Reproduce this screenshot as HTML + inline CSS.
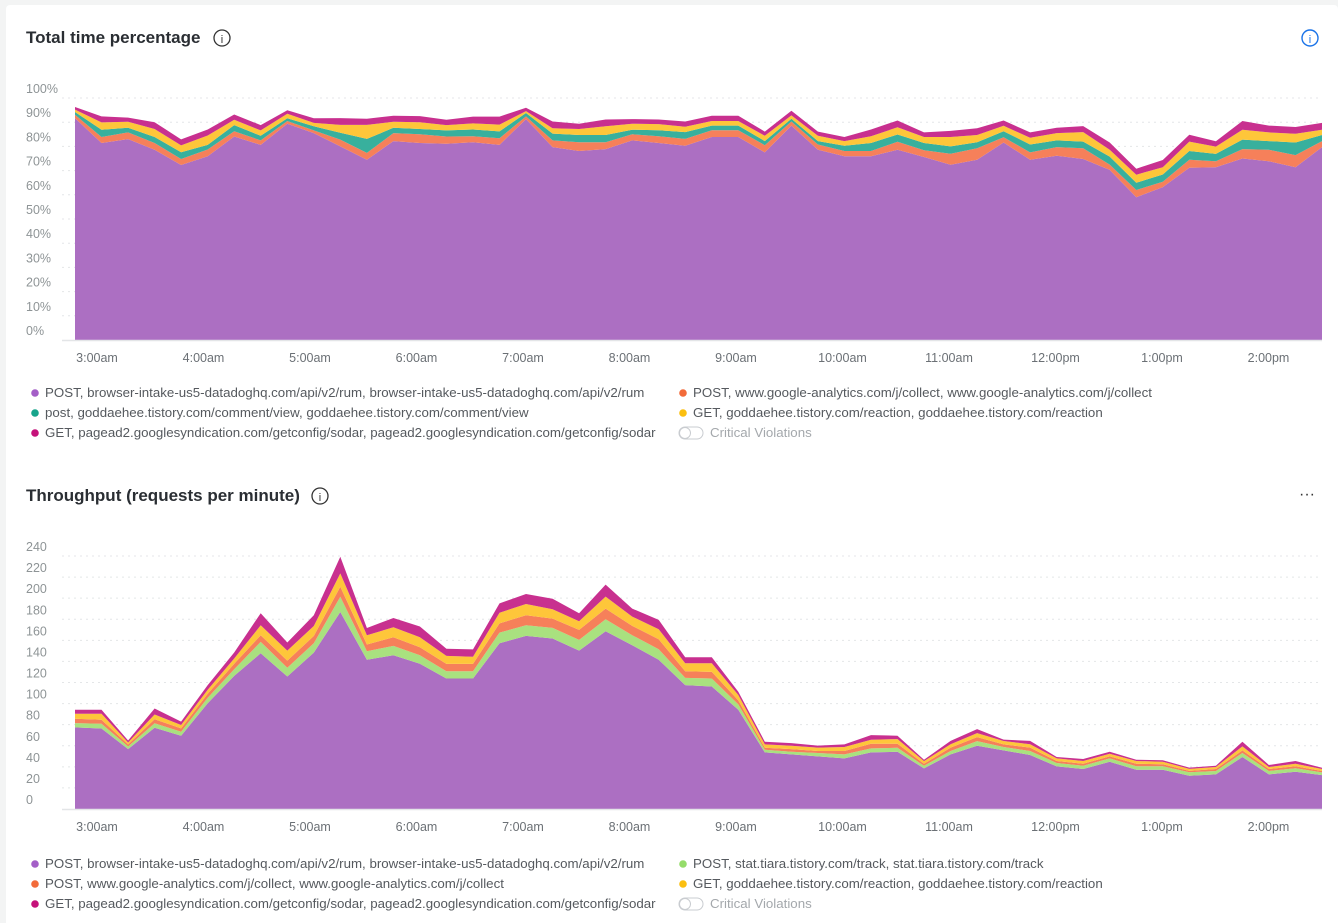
<!DOCTYPE html>
<html><head><meta charset="utf-8"><style>
body{margin:0;background:#f3f4f4;font-family:"Liberation Sans",Arial,sans-serif;}
#wrap{position:relative;width:1338px;height:923px;overflow:hidden;}
svg{position:absolute;left:0;top:0;}
</style></head><body>
<div id="wrap">
<svg id="svg" width="1338" height="923">
<rect x="6" y="5" width="1332" height="930" rx="4" fill="#fff"/>
<text x="26" y="43" font-size="17" font-weight="bold" fill="#2a2e33">Total time percentage</text>
<g><circle cx="222" cy="38" r="8" fill="none" stroke="#333" stroke-width="1.3"/><text x="222" y="43" font-size="11" text-anchor="middle" fill="#333">i</text></g>
<g><circle cx="1310" cy="38" r="8" fill="none" stroke="#1a73e8" stroke-width="1.4"/><text x="1310" y="43" font-size="11" text-anchor="middle" fill="#1a73e8">i</text></g>
<text x="26" y="501" font-size="17" font-weight="bold" fill="#2a2e33">Throughput (requests per minute)</text>
<g><circle cx="320" cy="496" r="8" fill="none" stroke="#333" stroke-width="1.3"/><text x="320" y="501" font-size="11" text-anchor="middle" fill="#333">i</text></g>
<text x="1307" y="499" font-size="16" text-anchor="middle" fill="#333">···</text>
<g id="c1"></g><g id="c2"></g>
</svg>
</div>
<script>
const times=["3:00am","4:00am","5:00am","6:00am","7:00am","8:00am","9:00am","10:00am","11:00am","12:00pm","1:00pm","2:00pm"];
const pctTicks=["0%","10%","20%","30%","40%","50%","60%","70%","80%","90%","100%"];
const rpmTicks=["0","20","40","60","80","100","120","140","160","180","200","220","240"];
// Chart 1 series (% of total time)
const t_rum=[91.7,81.4,83.0,78.6,72.3,75.9,84.1,80.6,89.4,85.5,80,74.5,82.2,81.4,81.1,81.7,80.6,91.3,79.7,78.1,78.9,82.5,81.4,80.3,83.9,83.9,77.5,88.6,78.6,75.9,75.9,78.6,75.6,72.4,74.5,81.6,74.5,76.1,74.8,70.3,59.0,63.2,71.2,71.4,75.0,73.9,71.4,79.7];
const t_ga=[1.4,2.5,2.8,2.8,2.5,2.8,2.2,1.9,1.1,1.1,2.8,2.8,3.3,3.6,3.0,2.5,2.8,1.1,2.8,3.6,2.8,2.5,2.8,2.8,2.8,2.8,3.0,1.7,2.2,2.2,2.2,3.3,2.8,4.6,4.7,2.2,3.0,3.6,4.4,2.2,3.0,2.2,3.3,2.5,3.9,4.7,5.0,2.5];
const t_comment=[1.1,3.0,1.9,2.5,2.8,1.9,2.5,1.9,1.1,1.7,2.8,5.8,2.2,2.2,2.5,2.8,2.8,1.4,2.8,3.0,3.0,1.9,2.5,2.8,1.9,1.9,1.7,1.1,1.4,2.2,3.3,3.0,3.0,3.0,2.5,2.5,3.3,2.8,2.8,3.3,3.0,3.0,3.6,3.0,3.9,3.6,5.2,2.5];
const t_reaction=[1.0,3.0,2.5,3.3,2.8,3.9,2.2,2.2,1.9,1.4,3.3,5.8,2.5,2.8,2.2,2.5,2.8,0.8,2.2,2.5,3.6,2.5,2.5,2.2,1.9,1.9,2.2,1.4,2.2,1.9,2.8,3.0,2.5,3.9,3.0,2.2,2.8,3.0,3.9,2.8,3.3,3.0,3.9,3.0,4.1,3.6,3.6,2.2];
const t_sodar=[1.1,2.5,1.7,2.8,2.5,2.5,2.2,2.2,1.4,1.9,2.8,2.5,2.5,2.5,2.2,2.8,3.3,1.4,2.8,2.2,2.8,1.9,1.9,2.2,2.2,2.2,1.7,1.9,1.7,1.7,2.8,2.8,1.9,2.5,2.8,2.2,2.2,2.2,2.5,3.0,2.5,3.0,2.8,2.2,3.6,2.8,2.8,2.8];
// Chart 2 series (requests per minute)
const r_rum=[77.4,76.4,56.8,77.0,69.5,100.4,126.3,147.8,125.7,148.4,186.9,141.5,145.9,137.7,123.8,123.8,157.2,164.2,161.7,150.3,168.6,155.4,141.5,117.5,116.2,94.1,53.7,51.8,49.9,48.0,53.7,54.3,38.5,51.8,60.0,55.6,51.2,40.4,37.9,44.8,37.3,37.3,31.6,32.8,49.3,32.8,35.4,32.2];
const r_tiara=[4.1,4.4,2.5,4.4,3.8,5.1,6.3,10.7,8.2,8.8,14.5,8.2,8.8,8.2,6.9,6.9,10.1,10.1,10.1,10.1,11.4,9.5,10.1,6.9,7.6,5.1,2.5,2.5,3.2,3.8,3.8,3.8,2.5,3.2,4.4,3.2,3.8,3.2,3.2,3.2,3.2,3.2,3.2,3.2,3.8,3.2,3.2,2.5];
const r_ga=[4.1,3.8,1.9,3.8,3.2,3.8,5.1,6.3,6.9,6.9,9.5,6.3,8.2,7.6,6.9,6.9,8.8,9.5,8.8,9.5,10.1,8.8,9.5,6.3,6.3,3.8,1.9,2.5,1.9,3.2,4.4,3.8,1.9,3.2,3.8,2.5,3.2,1.9,1.9,1.9,2.5,1.9,1.3,1.9,2.5,1.9,1.9,1.3];
const r_reaction=[4.7,5.7,1.9,4.4,3.2,3.8,5.1,9.5,9.5,9.5,12.6,8.8,9.5,9.5,7.6,6.9,10.1,10.7,8.8,8.2,11.4,8.8,9.5,7.6,8.2,5.1,3.2,3.2,3.2,3.8,3.8,4.4,2.5,3.2,3.8,3.2,3.2,2.5,2.5,2.5,2.5,2.5,1.9,1.9,3.8,1.9,2.5,1.9];
const r_sodar=[3.8,3.8,1.9,5.7,3.2,4.4,5.7,11.4,7.6,10.1,15.8,6.9,8.8,10.1,6.9,6.9,8.8,9.5,10.1,7.6,11.4,7.6,8.8,5.7,5.7,3.2,2.5,2.5,1.9,2.5,4.4,3.2,1.3,3.2,3.8,1.3,3.2,1.3,1.9,1.9,1.3,1.3,1.3,1.3,4.4,1.9,2.5,1.3];

const NS="http://www.w3.org/2000/svg";
function el(tag,attrs,parent){const e=document.createElementNS(NS,tag);for(const k in attrs)e.setAttribute(k,attrs[k]);parent.appendChild(e);return e;}
const X0=75,X1=1322;
const xAt=i=>X0+(X1-X0)*i/47;
const xTime=h=>97+106.5*h;

function drawChart(g,cfg){
  const yAt=v=>cfg.base-(v/cfg.max)*(cfg.base-cfg.top);
  cfg.ticks.forEach((t,k)=>{
    const v=cfg.max*k/(cfg.ticks.length-1);const y=yAt(v);
    if(k>0){const l=el('line',{x1:62,x2:1322,y1:y,y2:y,stroke:'#e4e6e8','stroke-dasharray':'2,4'},g);
      
      }
    const tx=el('text',{x:26,y:y-5,'font-size':12.5,fill:'#8e9496'},g);tx.textContent=t;
    
    
  });
  let cum=new Array(48).fill(0);
  cfg.series.forEach((s)=>{
    const lower=cum.slice();const upper=cum.map((c,i)=>c+s.vals[i]);
    let d='';
    for(let i=0;i<48;i++)d+=(i?'L':'M')+xAt(i).toFixed(1)+','+yAt(upper[i]).toFixed(1);
    for(let i=47;i>=0;i--)d+='L'+xAt(i).toFixed(1)+','+yAt(lower[i]).toFixed(1);
    const p=el('path',{d:d+'Z',fill:s.color},g);
    
    
    cum=upper;
  });
  const ax=el('line',{x1:62,x2:1322,y1:cfg.base+0.5,y2:cfg.base+0.5,stroke:'#e3e5e7','stroke-width':1.5},g);
  
  
  times.forEach((t,h)=>{
    const x=xTime(h);
    const tx=el('text',{x:x,y:cfg.base+22,'font-size':12.5,'text-anchor':'middle',fill:'#6b7075'},g);tx.textContent=t;
    
    
  });
  cfg.legend.forEach(([c,label,x,y])=>{
    const lg=el('g',{},g);
    
    
    el('circle',{cx:x+4,cy:y-4,r:3.8,fill:c},lg);
    const tx=el('text',{x:x+14,y:y,'font-size':13.3,fill:'#55595e'},lg);tx.textContent=label;
  });
  const tg=el('g',{},g);
  
  
  const ly=cfg.legendY+40;
  el('rect',{x:679,y:ly-10,width:24,height:12,rx:6,fill:'#fff',stroke:'#c9ccd0'},tg);
  el('circle',{cx:685,cy:ly-4,r:5.5,fill:'#fff',stroke:'#c9ccd0'},tg);
  const tt=el('text',{x:710,y:ly,'font-size':13.3,fill:'#a4a8ac'},tg);tt.textContent='Critical Violations';
}
const P='#ac6fc2',OR='#f6805a',TE='#38b09d',YE='#fec63a',MA='#c8308f',GR='#a9e17f';
drawChart(document.getElementById('c1'),{base:340,top:98,max:100,ticks:pctTicks,legendY:397,
 series:[{name:'area-rum',vals:t_rum,color:P},{name:'area-google-analytics',vals:t_ga,color:OR},{name:'area-comment-view',vals:t_comment,color:TE},{name:'area-reaction',vals:t_reaction,color:YE},{name:'area-sodar',vals:t_sodar,color:MA}],
 legend:[[ '#a45fc7','POST, browser-intake-us5-datadoghq.com/api/v2/rum, browser-intake-us5-datadoghq.com/api/v2/rum',31,397],
  ['#f26b3a','POST, www.google-analytics.com/j/collect, www.google-analytics.com/j/collect',679,397],
  ['#18a58c','post, goddaehee.tistory.com/comment/view, goddaehee.tistory.com/comment/view',31,417],
  ['#fbbf10','GET, goddaehee.tistory.com/reaction, goddaehee.tistory.com/reaction',679,417],
  ['#c5127a','GET, pagead2.googlesyndication.com/getconfig/sodar, pagead2.googlesyndication.com/getconfig/sodar',31,437]]});
drawChart(document.getElementById('c2'),{base:809,top:556,max:240,ticks:rpmTicks,legendY:868,
 series:[{name:'area-rum',vals:r_rum,color:P},{name:'area-tiara-track',vals:r_tiara,color:GR},{name:'area-google-analytics',vals:r_ga,color:OR},{name:'area-reaction',vals:r_reaction,color:YE},{name:'area-sodar',vals:r_sodar,color:MA}],
 legend:[[ '#a45fc7','POST, browser-intake-us5-datadoghq.com/api/v2/rum, browser-intake-us5-datadoghq.com/api/v2/rum',31,868],
  ['#95dc6a','POST, stat.tiara.tistory.com/track, stat.tiara.tistory.com/track',679,868],
  ['#f26b3a','POST, www.google-analytics.com/j/collect, www.google-analytics.com/j/collect',31,888],
  ['#fbbf10','GET, goddaehee.tistory.com/reaction, goddaehee.tistory.com/reaction',679,888],
  ['#c5127a','GET, pagead2.googlesyndication.com/getconfig/sodar, pagead2.googlesyndication.com/getconfig/sodar',31,908]]});
</script>
</body></html>
